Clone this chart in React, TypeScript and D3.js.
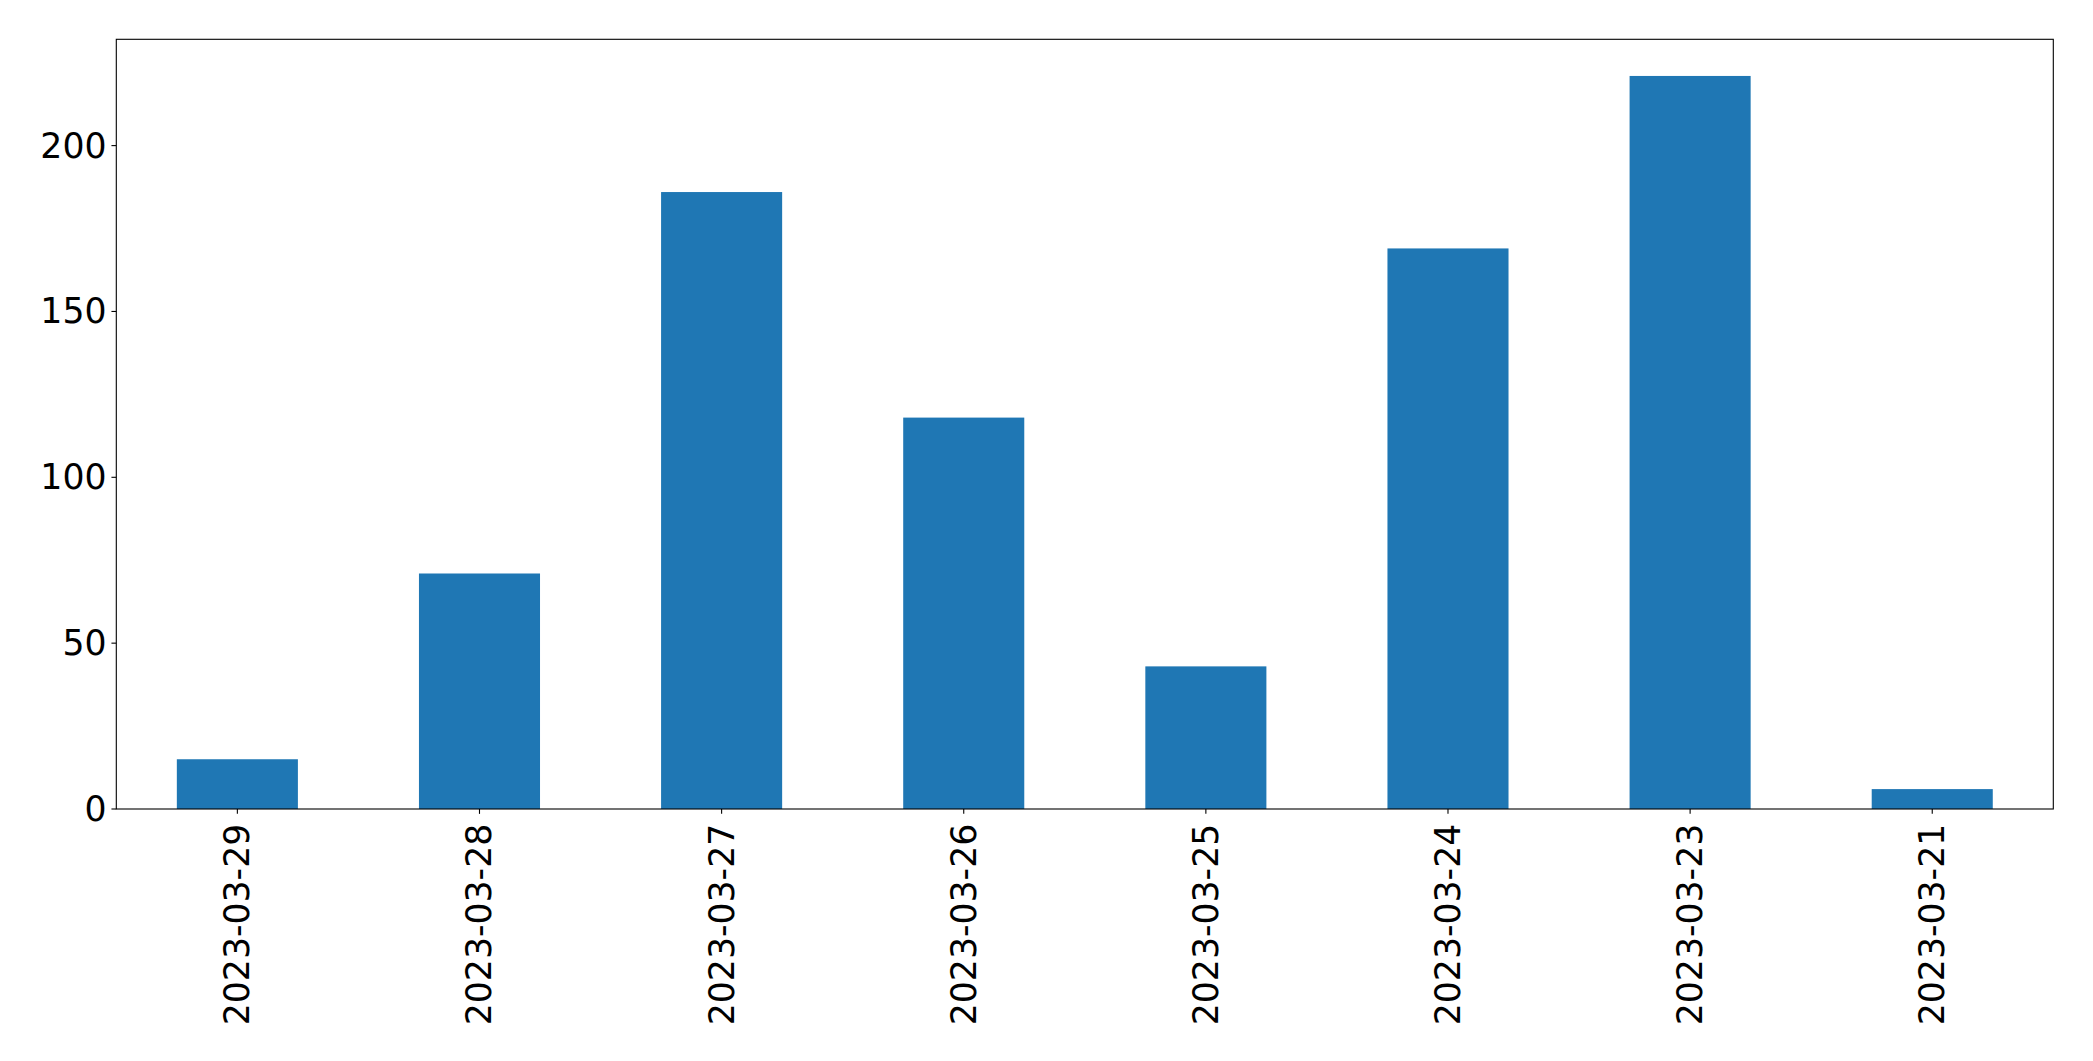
import React from "react";
import * as d3 from "d3";

const categories = ["2023-03-29", "2023-03-28", "2023-03-27", "2023-03-26", "2023-03-25", "2023-03-24", "2023-03-23", "2023-03-21"];
const values = [15, 71, 186, 118, 43, 169, 221, 6];
const yTicks = [0, 50, 100, 150, 200];

const W = 2093;
const H = 1061;
const left = 116.3;
const right = 2053.3;
const top = 39.3;
const bottom = 809;
const font = "DejaVu Sans";
const fs = 34.7;
const tickLen = 4.86;
const pad = 4.86;

export default function App() {
  const x = d3.scaleLinear().domain([-0.5, categories.length - 0.5]).range([left, right]);
  const yMax = d3.max(values)! * 1.05;
  const y = d3.scaleLinear().domain([0, yMax]).range([bottom, top]);
  const bw = x(0.25) - x(-0.25);

  return (
    <svg width={W} height={H} style={{ position: "absolute", left: 0, top: 0, background: "#fff" }}>
      <rect x={0} y={0} width={W} height={H} fill="#fff" />
      {values.map((v, i) => (
        <rect key={i} x={x(i) - bw / 2} y={y(v)} width={bw} height={y(0) - y(v)} fill="#1f77b4" />
      ))}
      <rect x={left} y={top} width={right - left} height={bottom - top} fill="none" stroke="#000" strokeWidth={1.1} />
      {yTicks.map((t) => (
        <g key={t}>
          <line x1={left - tickLen} x2={left} y1={y(t)} y2={y(t)} stroke="#000" strokeWidth={1.1} />
          <text x={left - tickLen - pad} y={y(t)} textAnchor="end" dominantBaseline="central" fontFamily={font} fontSize={fs} fill="#000">
            {t}
          </text>
        </g>
      ))}
      {categories.map((c, i) => (
        <g key={c}>
          <line x1={x(i)} x2={x(i)} y1={bottom} y2={bottom + tickLen} stroke="#000" strokeWidth={1.1} />
          <text
            transform={`translate(${x(i)},${bottom + tickLen + pad + 5}) rotate(-90)`}
            textAnchor="end"
            dominantBaseline="central"
            fontFamily={font}
            fontSize={fs}
            fill="#000"
          >
            {c}
          </text>
        </g>
      ))}
    </svg>
  );
}
